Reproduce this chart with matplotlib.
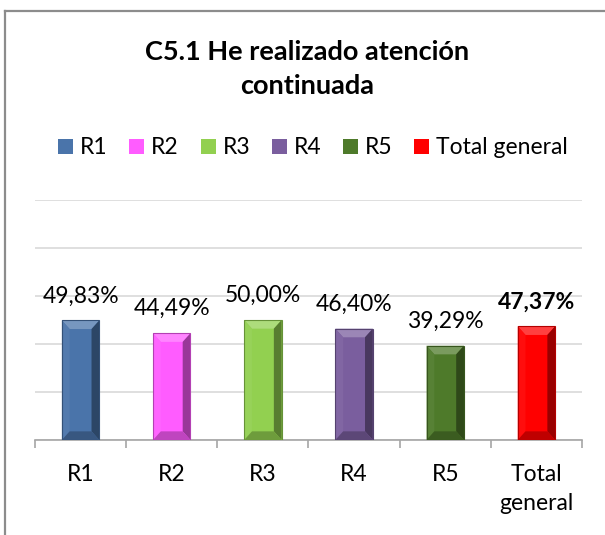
import matplotlib.pyplot as plt
import matplotlib.colors as mcolors
from matplotlib.patches import Polygon, Rectangle
from matplotlib.lines import Line2D

plt.rcParams['font.family'] = ['Lato', 'DejaVu Sans']

categories = ['R1', 'R2', 'R3', 'R4', 'R5', 'Total general']
tick_labels = ['R1', 'R2', 'R3', 'R4', 'R5', 'Total\ngeneral']
values = [49.83, 44.49, 50.00, 46.40, 39.29, 47.37]
colors = ['#4A74AA', '#FF5CFF', '#92D050', '#7A5E9E', '#4E7A2A', '#FF0000']
title = 'C5.1 He realizado atención\ncontinuada'

W, H = 605, 535
fig = plt.figure(figsize=(W / 100, H / 100), dpi=100)
ax = fig.add_axes([35 / W, 1 - 440 / H, (582 - 35) / W, 240 / H])

x = list(range(len(values)))
bar_w = 0.41
bars = ax.bar(x, values, width=bar_w, color=colors, zorder=3)


def shade(c, f):
    r, g, b = mcolors.to_rgb(c)
    if f > 1:
        return (r + (1 - r) * (f - 1), g + (1 - g) * (f - 1), b + (1 - b) * (f - 1))
    return (r * f, g * f, b * f)


# bevel look
bx = 0.085
by = 3.6
for b, c in zip(bars, colors):
    x0, w, h = b.get_x(), b.get_width(), b.get_height()
    x1 = x0 + w
    top = [(x0, h), (x1, h), (x1 - bx, h - by), (x0 + bx, h - by)]
    bot = [(x0, 0), (x1, 0), (x1 - bx, by), (x0 + bx, by)]
    left = [(x0, 0), (x0, h), (x0 + bx, h - by), (x0 + bx, by)]
    right = [(x1, 0), (x1, h), (x1 - bx, h - by), (x1 - bx, by)]
    ax.add_patch(Polygon(top, closed=True, color=shade(c, 1.25), lw=0, zorder=4))
    ax.add_patch(Polygon(left, closed=True, color=shade(c, 1.05), lw=0, zorder=4))
    ax.add_patch(Polygon(right, closed=True, color=shade(c, 0.6), lw=0, zorder=4))
    ax.add_patch(Polygon(bot, closed=True, color=shade(c, 0.75), lw=0, zorder=4))
    ax.add_patch(Rectangle((x0, 0), w, h, fill=False, ec=shade(c, 0.7), lw=0.8, zorder=5))

for i, (b, v) in enumerate(zip(bars, values)):
    ax.annotate(f'{v:.2f}%'.replace('.', ','), (b.get_x() + b.get_width() / 2, v),
                xytext=(0, 10), textcoords='offset points', ha='center', va='bottom',
                fontsize=16.5, fontweight='bold' if i == len(values) - 1 else 'normal',
                color='black', zorder=5)

ax.set_xlim(-0.5, len(values) - 0.5)
ax.set_ylim(0, 100)
ax.set_yticks([0, 20, 40, 60, 80, 100])
ax.yaxis.grid(True, color='#D9D9D9', lw=1.2, zorder=0)
ax.tick_params(axis='y', length=0, labelleft=False)
for s in ['left', 'right', 'top']:
    ax.spines[s].set_visible(False)
ax.spines['bottom'].set_color('#A6A6A6')
ax.spines['bottom'].set_linewidth(1.2)

ax.set_xticks([i - 0.5 for i in range(len(values) + 1)], minor=False)
ax.set_xticklabels([])
ax.tick_params(axis='x', length=6, color='#A6A6A6', width=1.2)
ax.set_xticks(x, minor=True)
ax.set_xticklabels(tick_labels, minor=True, fontsize=16.5, linespacing=1.5, va='top')
ax.tick_params(axis='x', which='minor', length=0, pad=17)

fig.text(0.508, 1 - 69 / H, title, ha='center', va='center', fontsize=19.5,
         fontweight='bold', linespacing=1.5)

handles = [Rectangle((0, 0), 1, 1, facecolor=c) for c in colors]
fig.legend(handles, categories, loc='center', bbox_to_anchor=(313 / W, 1 - 148 / H),
           ncol=6, frameon=False, fontsize=16.5, handlelength=0.65, handleheight=0.6,
           handletextpad=0.3, columnspacing=0.95, borderpad=0, borderaxespad=0)

fig.add_artist(Line2D([5 / W, 1], [1 - 11 / H, 1 - 11 / H], color='#8C8C8C', lw=1.6))
fig.add_artist(Line2D([5 / W, 5 / W], [0, 1 - 11 / H], color='#8C8C8C', lw=1.6))

fig.savefig('out.png', dpi=100)
